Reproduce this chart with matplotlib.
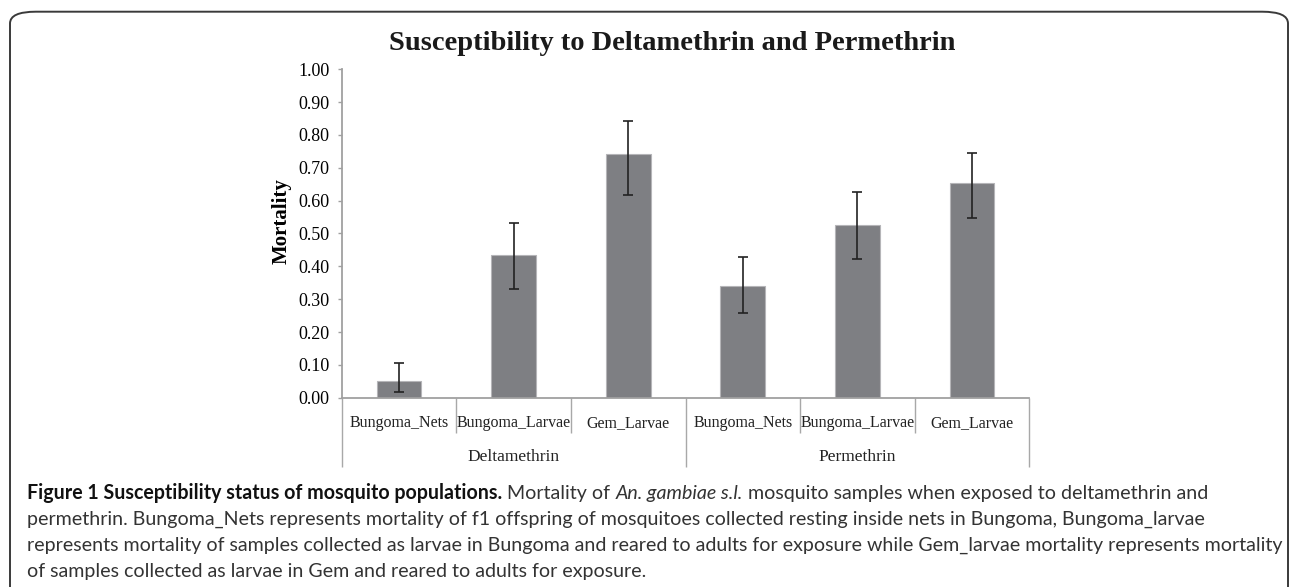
import numpy as np
import matplotlib
matplotlib.use("Agg")
import matplotlib.pyplot as plt
from matplotlib import font_manager
from matplotlib.patches import FancyBboxPatch
from matplotlib.transforms import blended_transform_factory

# data
groups = ["Deltamethrin", "Permethrin"]
samples = ["Bungoma_Nets", "Bungoma_Larvae", "Gem_Larvae"]
mortality = [0.051, 0.434, 0.743, 0.341, 0.526, 0.655]
err_low = [0.017, 0.331, 0.617, 0.259, 0.423, 0.548]
err_high = [0.106, 0.533, 0.843, 0.428, 0.625, 0.746]
yticks = [0.0, 0.1, 0.2, 0.3, 0.4, 0.5, 0.6, 0.7, 0.8, 0.9, 1.0]

title = "Susceptibility to Deltamethrin and Permethrin"
caption_lines = [
    [("bold", "Figure 1 Susceptibility status of mosquito populations."), ("normal", "Mortality of"),
     ("italic", "An. gambiae s.l."), ("normal", "mosquito samples when exposed to deltamethrin and")],
    [("normal", "permethrin. Bungoma_Nets represents mortality of f1 offspring of mosquitoes "
                "collected resting inside nets in Bungoma, Bungoma_larvae")],
    [("normal", "represents mortality of samples collected as larvae in Bungoma and reared to "
                "adults for exposure while Gem_larvae mortality represents mortality")],
    [("normal", "of samples collected as larvae in Gem and reared to adults for exposure.")],
]


def pick_font(names):
    for n in names:
        try:
            font_manager.findfont(n, fallback_to_default=False)
            return n
        except Exception:
            continue
    return "DejaVu Sans"


serif = pick_font(["Liberation Serif", "DejaVu Serif"])
sans = pick_font(["Lato", "Open Sans", "Noto Sans", "DejaVu Sans"])

W, H = 1290, 587
fig = plt.figure(figsize=(W / 100, H / 100), dpi=100)
ax = fig.add_axes([341.7 / W, 1 - 397.7 / H, (1029.3 - 341.7) / W, (397.7 - 69.3) / H])

x = np.arange(len(mortality))
m = np.array(mortality)
yerr = np.vstack([m - np.array(err_low), np.array(err_high) - m])
ax.bar(x, m, width=0.39, color="#7e7f83", edgecolor="#b5b5b8", linewidth=0.8, zorder=2)
ax.errorbar(x, m, yerr=yerr, fmt="none", ecolor="#222222", elinewidth=1.2,
            capsize=3.5, capthick=1.2, zorder=3)

ax.set_xlim(-0.5, 5.5)
ax.set_ylim(0, 1.0)
ax.set_yticks(yticks)
ax.set_yticklabels([f"{v:.2f}" for v in yticks], fontfamily=serif, fontsize=13)
ax.tick_params(axis="y", direction="out", length=3, width=1, color="#a0a0a0", pad=6)

# category separators (minor) and group separators (major)
ax.set_xticks([-0.5, 2.5, 5.5])
ax.set_xticks([0.5, 1.5, 3.5, 4.5], minor=True)
ax.set_xticklabels([])
ax.tick_params(axis="x", which="major", length=50, width=1, color="#a8a8a8")
ax.tick_params(axis="x", which="minor", length=25.4, width=1, color="#a8a8a8")

for s in ["top", "right"]:
    ax.spines[s].set_visible(False)
for s in ["left", "bottom"]:
    ax.spines[s].set_color("#a0a0a0")
    ax.spines[s].set_linewidth(1.3)

trans = blended_transform_factory(ax.transData, fig.transFigure)
labels = samples * len(groups)
for i, lb in enumerate(labels):
    ax.text(i, 1 - 423 / H, lb, transform=trans, ha="center", va="center",
            fontfamily=serif, fontsize=11.5, color="#222222")
for g, name in enumerate(groups):
    ax.text(g * 3 + 1, 1 - 457 / H, name, transform=trans, ha="center", va="center",
            fontfamily=serif, fontsize=12.5, color="#222222")

fig.text(282 / W, 1 - 221 / H, "Mortality", rotation=90, ha="center", va="center",
         fontfamily=serif, fontweight="bold", fontsize=15)
fig.text(672 / W, 1 - 43 / H, title, ha="center", va="center",
         fontfamily=serif, fontweight="bold", fontsize=20.5, color="#1a1a1a")

# rounded frame around the figure panel
frame = FancyBboxPatch((10 / W, -0.05), (1288 - 10) / W, 1.05 - 11.7 / H,
                       boxstyle="round,pad=0,rounding_size=0.02",
                       transform=fig.transFigure, fill=False,
                       edgecolor="#3a3a3a", linewidth=1.4, clip_on=False)
fig.patches.append(frame)

# caption, placed piece by piece
renderer = fig.canvas.get_renderer()


def text_width(s, size, style="normal", weight="normal"):
    t = fig.text(0, 0, s, fontfamily=sans, fontsize=size, fontstyle=style, fontweight=weight)
    w = t.get_window_extent(renderer).width
    t.remove()
    return w


# fit caption font so line 3 spans the same width as the reference
size = 12.0
w3 = text_width(caption_lines[2][0][1], size)
size = size * (1275 - 27) / w3
space = text_width("a a", size) - text_width("aa", size)

line_y = [493, 519, 545, 571]
for line, yy in zip(caption_lines, line_y):
    xp = 27.0
    for kind, s in line:
        style = "italic" if kind == "italic" else "normal"
        weight = "bold" if kind == "bold" else "normal"
        color = "#111111" if kind == "bold" else "#333333"
        t = fig.text(xp / W, 1 - yy / H, s, ha="left", va="center", fontfamily=sans,
                     fontsize=size, fontstyle=style, fontweight=weight, color=color)
        xp += t.get_window_extent(renderer).width + space

fig.savefig("out.png", dpi=100)
